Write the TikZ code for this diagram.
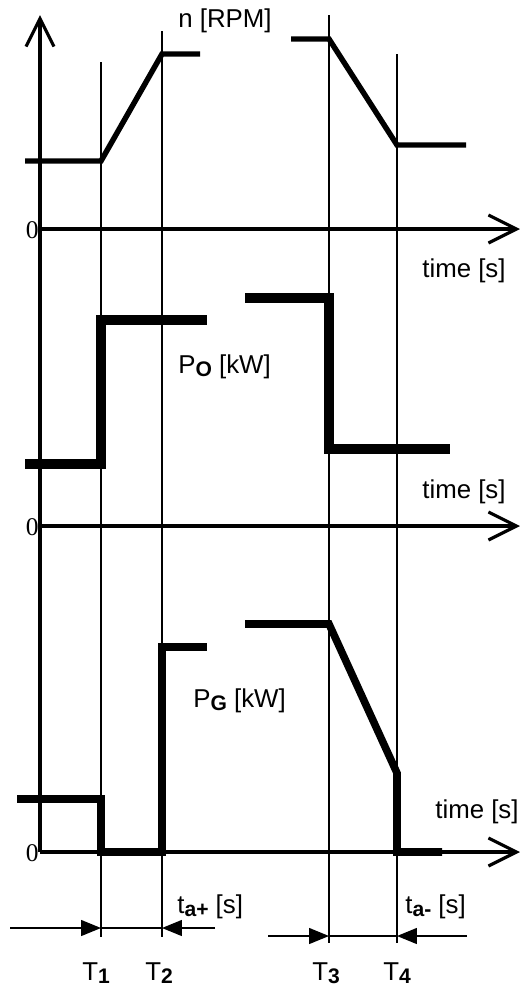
\documentclass[tikz,border=0pt]{standalone}
\usepackage{fontspec}
\setmainfont{Liberation Sans}
\newfontfamily\zerofont{Liberation Serif}
\usetikzlibrary{arrows.meta}

\newcommand{\lowsub}[1]{\raisebox{-2pt}{\fontsize{12}{14}\selectfont\bfseries #1}}

\begin{document}
\begin{tikzpicture}[x=0.02cm,y=-0.02cm,
  every node/.style={inner sep=0pt,font=\fontsize{14.7}{17}\selectfont},
  axis/.style={line width=1.8pt,-{Straight Barb[length=5.6mm,width=5.6mm,line width=1.8pt]}},
  guide/.style={line width=0.8pt},
  dimarrow/.style={line width=0.8pt,-{Triangle[length=4mm,width=3.2mm]}},
  speed/.style={line width=3.1pt,line join=miter},
  power/.style={line width=6.2pt,line join=miter},
  gen/.style={line width=4.3pt,line join=miter},
  zero/.style={anchor=east,font=\zerofont\fontsize{14.5}{16}\selectfont}]
  \useasboundingbox (0,0) rectangle (520,988);

  % time marks
  \coordinate (T1) at (101,937);
  \coordinate (T2) at (162,937);
  \coordinate (T3) at (329,943);
  \coordinate (T4) at (397,943);
  \draw[guide] (101,62) -- (T1);
  \draw[guide] (162,31) -- (T2);
  \draw[guide] (329,15) -- (T3);
  \draw[guide] (397,54) -- (T4);

  % axes
  \coordinate (origin) at (40,852);
  \draw[axis] (origin) -- (40,15);
  \draw[axis] (40,229) -- (520,229);
  \draw[axis] (40,526) -- (520,526);
  \draw[axis] (origin) -- (520,852);
  \node[zero] (zeroN) at (39,230) {0};
  \node[zero] (zeroO) at (39,527) {0};
  \node[zero] (zeroG) at (39,853) {0};

  % speed
  \draw[speed] (25,161) -- (101,161) -- (162,54) -- (200,54);
  \draw[speed] (291,39) -- (329,39) -- (397,145) -- (466,145);
  \node[anchor=base west] (rpm) at (178,27) {n [RPM]};
  \node[anchor=base west] (timeN) at (422,277) {time [s]};

  % output power
  \draw[power] (25,464) -- (101,464) -- (101,320) -- (207,320);
  \draw[power] (245,298) -- (329,298) -- (329,449) -- (450,449);
  \node[anchor=base west] (powO) at (178,373) {P\lowsub{O} [kW]};
  \node[anchor=base west] (timeO) at (422,498) {time [s]};

  % generator power
  \draw[gen] (17,799) -- (101,799) -- (101,852) -- (162,852) -- (162,647) -- (207,647);
  \draw[gen] (245,624) -- (329,624) -- (397,773) -- (397,852) -- (442,852);
  \node[anchor=base west] (powG) at (193,707) {P\lowsub{G} [kW]};
  \node[anchor=base west] (timeG) at (435,818) {time [s]};

  % acceleration and deceleration times
  \coordinate (a1) at (101,928);
  \coordinate (a2) at (162,928);
  \coordinate (d1) at (329,936);
  \coordinate (d2) at (397,936);
  \draw[dimarrow] (10,928) -- (a1);
  \draw[guide] (a1) -- (a2);
  \draw[dimarrow] (215,928) -- (a2);
  \draw[dimarrow] (268,936) -- (d1);
  \draw[guide] (d1) -- (d2);
  \draw[dimarrow] (467,936) -- (d2);
  \node[anchor=base west] (tacc) at (177,913) {t\lowsub{a+} [s]};
  \node[anchor=base west] (tdec) at (405,913) {t\lowsub{a-} [s]};

  \node[anchor=base west] (lab1) at (82,980) {T\lowsub{1}};
  \node[anchor=base west] (lab2) at (145,980) {T\lowsub{2}};
  \node[anchor=base west] (lab3) at (312,980) {T\lowsub{3}};
  \node[anchor=base west] (lab4) at (383,980) {T\lowsub{4}};
\end{tikzpicture}
\end{document}
